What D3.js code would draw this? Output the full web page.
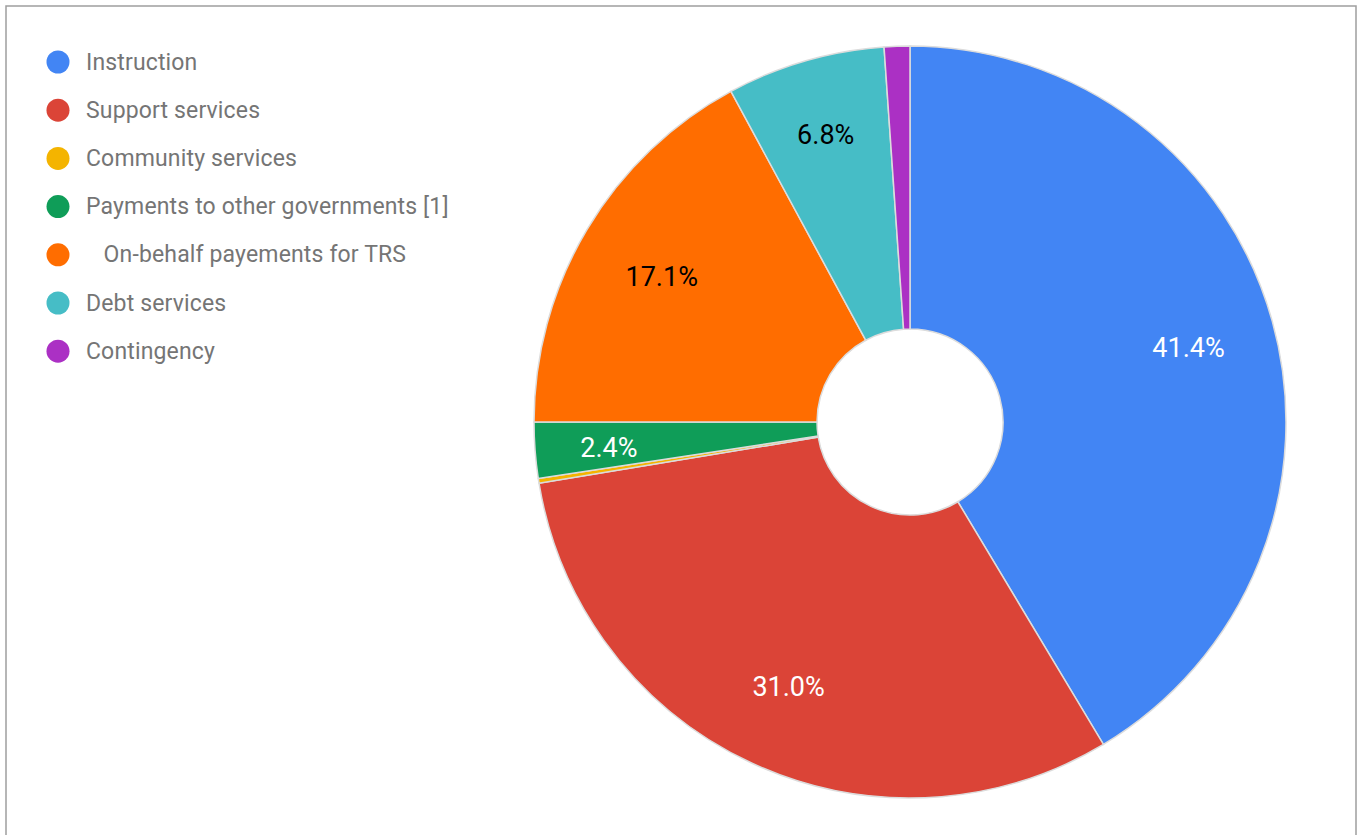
<!DOCTYPE html>
<html>
<head>
<meta charset="utf-8">
<script src="https://cdn.jsdelivr.net/npm/d3@7"></script>
<style>
  body { margin: 0; background: #fff; }
  svg { display: block; }
</style>
</head>
<body>
<svg id="chart" width="1358" height="835"></svg>
<script>
// data
var categories = ["Instruction", "Support services", "Community services",
  "Payments to other governments [1]", "   On-behalf payements for TRS",
  "Debt services", "Contingency"];
var shares = [41.4, 31.0, 0.2, 2.4, 17.1, 6.8, 1.1];
var colours = ["#4285f4", "#db4437", "#f4b400", "#0f9d58", "#ff6d00", "#46bdc6", "#ab30c4"];
var labelColours = ["#fff", "#fff", "#fff", "#fff", "#000", "#000", "#fff"];

var data = categories.map(function(c, i){
  return {name: c, value: shares[i], i: i};
});

var svg = d3.select("#chart");

// frame
svg.append("rect")
  .attr("x", 6).attr("y", 6)
  .attr("width", 1350).attr("height", 840)
  .attr("fill", "none")
  .attr("stroke", "#9e9e9e")
  .attr("stroke-width", 1.5);

var cx = 910, cy = 422, outerR = 376, innerR = 93;

var pie = d3.pie().sort(null).value(function(d){ return d.value; });
var arc = d3.arc().innerRadius(innerR).outerRadius(outerR);
// thin slices get their label pushed a bit further out
var bigLabelArc = d3.arc().innerRadius(289).outerRadius(289);
var thinLabelArc = d3.arc().innerRadius(302).outerRadius(302);

var g = svg.append("g").attr("transform", "translate(" + cx + "," + cy + ")");
var arcs = pie(data);

g.selectAll("path.slice")
  .data(arcs)
  .enter()
  .append("path")
  .attr("class", "slice")
  .attr("d", arc)
  .attr("fill", function(d){ return colours[d.data.i]; })
  .attr("stroke", "#dcdcdc")
  .attr("stroke-width", 1.5);

g.selectAll("text.pct")
  .data(arcs.filter(function(d){ return d.data.value >= 2; }))
  .enter()
  .append("text")
  .attr("class", "pct")
  .attr("transform", function(d){
    var a = d.data.value < 10 ? thinLabelArc : bigLabelArc;
    return "translate(" + a.centroid(d) + ")";
  })
  .attr("dy", 3)
  .attr("text-anchor", "middle")
  .attr("dominant-baseline", "central")
  .attr("font-family", "Roboto, sans-serif")
  .attr("font-size", 27)
  .attr("fill", function(d){ return labelColours[d.data.i]; })
  .text(function(d){ return d.data.value.toFixed(1) + "%"; });

// legend
var legend = svg.append("g").attr("transform", "translate(58,62)");
var item = legend.selectAll("g")
  .data(data)
  .enter()
  .append("g")
  .attr("transform", function(d, i){ return "translate(0," + (i * 48.2) + ")"; });

item.append("circle")
  .attr("r", 11.5)
  .attr("fill", function(d){ return colours[d.i]; });

item.append("text")
  .attr("x", 28)
  .attr("dominant-baseline", "central")
  .attr("font-family", "Roboto, sans-serif")
  .attr("font-size", 23)
  .attr("letter-spacing", 0.15)
  .attr("fill", "#757575")
  .attr("xml:space", "preserve")
  .style("white-space", "pre")
  .text(function(d){ return d.name; });
</script>
</body>
</html>
